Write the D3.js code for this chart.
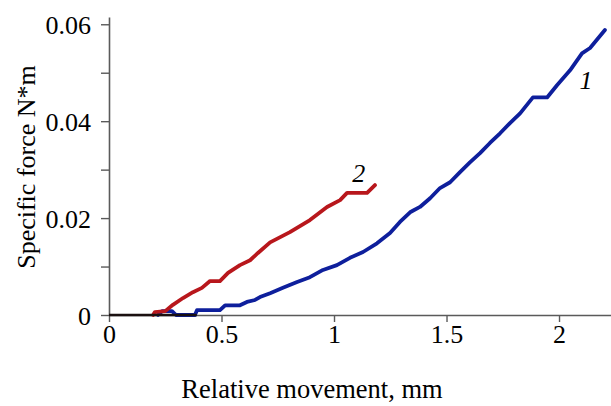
<!DOCTYPE html>
<html>
	<head>
		<title>Specific force</title>
		<meta charset="utf-8">
	</head>
	<body>
	</body>
</html>
<script src="https://d3js.org/d3.v7.min.js"></script>
<style>
html,body{
	margin:0;
	padding:0;
	background:#fff;
}
svg text{
	font-family:"Liberation Serif","Times New Roman",serif !important;
}
</style>
<script>
	// curve 1 (blue) - relative movement mm / specific force
	var curve1X=[0.218,0.236,0.28,0.298,0.382,0.391,0.493,0.516,0.582,0.613,0.649,0.671,0.716,0.773,0.836,0.893,0.951,1.013,1.071,1.129,1.191,1.249,1.293,1.338,1.382,1.427,1.471,1.516,1.56,1.604,1.649,1.693,1.738,1.782,1.827,1.884,1.947,1.991,2.049,2.102,2.138,2.204];
	var curve1Y=[0,0.0008,0.0008,0,0,0.001,0.001,0.002,0.002,0.0027,0.0031,0.0037,0.0045,0.0056,0.0068,0.0078,0.0093,0.0103,0.0118,0.013,0.0148,0.0169,0.0192,0.0212,0.0223,0.0241,0.0262,0.0274,0.0295,0.0315,0.0334,0.0355,0.0375,0.0396,0.0416,0.0449,0.0449,0.0474,0.0505,0.054,0.0551,0.0588];
	// curve 2 (red)
	var curve2X=[0.196,0.204,0.25,0.284,0.329,0.373,0.413,0.449,0.493,0.529,0.582,0.627,0.662,0.716,0.804,0.893,0.969,1.027,1.058,1.147,1.182];
	var curve2Y=[0,0.0006,0.0008,0.0021,0.0035,0.0047,0.0056,0.007,0.007,0.0087,0.0103,0.0113,0.0128,0.015,0.0171,0.0196,0.0223,0.0237,0.0252,0.0252,0.0268];
	// both curves lie on zero here
	var zeroX=[0,0.39];
	var zeroY=[0,0];

	var xTicks=[0,0.5,1,1.5,2];
	var yTicks=[0,0.01,0.02,0.03,0.04,0.05,0.06];
	var yLabels=["0","","0.02","","0.04","","0.06"];

	var W=611,H=406;
	var FONT="'Liberation Serif','Times New Roman',serif";

	var svg=d3.select("body")
	.append("svg")
	.attr("width",W)
	.attr("height",H)
	.attr("font-family",FONT);

	var scaleX=d3.scaleLinear()
	.domain([0,2.231])
	.range([109,611]);

	var scaleY=d3.scaleLinear()
	.domain([0,0.0615])
	.range([315,17]);

	var xAxis=d3.axisBottom(scaleX)
	.tickValues(xTicks)
	.tickSizeInner(7)
	.tickSizeOuter(0)
	.tickPadding(3)
	.tickFormat(d3.format(""));

	var gx=svg.append("g")
	.attr("transform","translate(0,"+scaleY(0)+")")
	.call(xAxis);

	var yAxis=d3.axisLeft(scaleY)
	.tickValues(yTicks)
	.tickSizeInner(8)
	.tickSizeOuter(0)
	.tickPadding(10)
	.tickFormat((d,i)=>yLabels[i]);

	var gy=svg.append("g")
	.attr("transform","translate("+scaleX(0)+",0)")
	.call(yAxis);

	[gx,gy].forEach(g=>{
		g.attr("font-family",FONT);
		g.select(".domain").attr("stroke","#5a5a5a").attr("stroke-width",1.6);
		g.selectAll(".tick line").attr("stroke","#5a5a5a").attr("stroke-width",1.4);
		g.selectAll(".tick text")
		.attr("fill","#000")
		.style("font-size","26px")
		.style("font-family",FONT);
	});
	gy.selectAll(".tick text").attr("dy","0.35em");

	var line=d3.line()
	.x(d=>scaleX(d[0]))
	.y(d=>scaleY(d[1]));

	var data1=d3.zip(curve1X,curve1Y);
	var data2=d3.zip(curve2X,curve2Y);
	var data0=d3.zip(zeroX,zeroY);

	svg.append("path")
	.datum(data1)
	.attr("d",line)
	.attr("fill","none")
	.attr("stroke","#0e1f9c")
	.attr("stroke-width",3.8)
	.attr("stroke-linejoin","round")
	.attr("stroke-linecap","round");

	svg.append("path")
	.datum(data2)
	.attr("d",line)
	.attr("fill","none")
	.attr("stroke","#b8171c")
	.attr("stroke-width",3.8)
	.attr("stroke-linejoin","round")
	.attr("stroke-linecap","round");

	svg.append("path")
	.datum(data0)
	.attr("d",line)
	.attr("fill","none")
	.attr("stroke","#1a1010")
	.attr("stroke-width",2.5);

	// curve numbers
	svg.append("text")
	.attr("x",scaleX(2.12))
	.attr("y",scaleY(0.0467))
	.attr("text-anchor","middle")
	.style("font-size","26px")
	.style("font-style","italic")
	.text("1");

	svg.append("text")
	.attr("x",scaleX(1.11))
	.attr("y",scaleY(0.0274))
	.attr("text-anchor","middle")
	.style("font-size","26px")
	.style("font-style","italic")
	.text("2");

	svg.append("text")
	.attr("x",312)
	.attr("y",398)
	.attr("text-anchor","middle")
	.style("font-size","26.5px")
	.text("Relative movement, mm");

	svg.append("text")
	.attr("transform","translate(35,167) rotate(-90)")
	.attr("text-anchor","middle")
	.style("font-size","26px")
	.text("Specific force N*m");
</script>
